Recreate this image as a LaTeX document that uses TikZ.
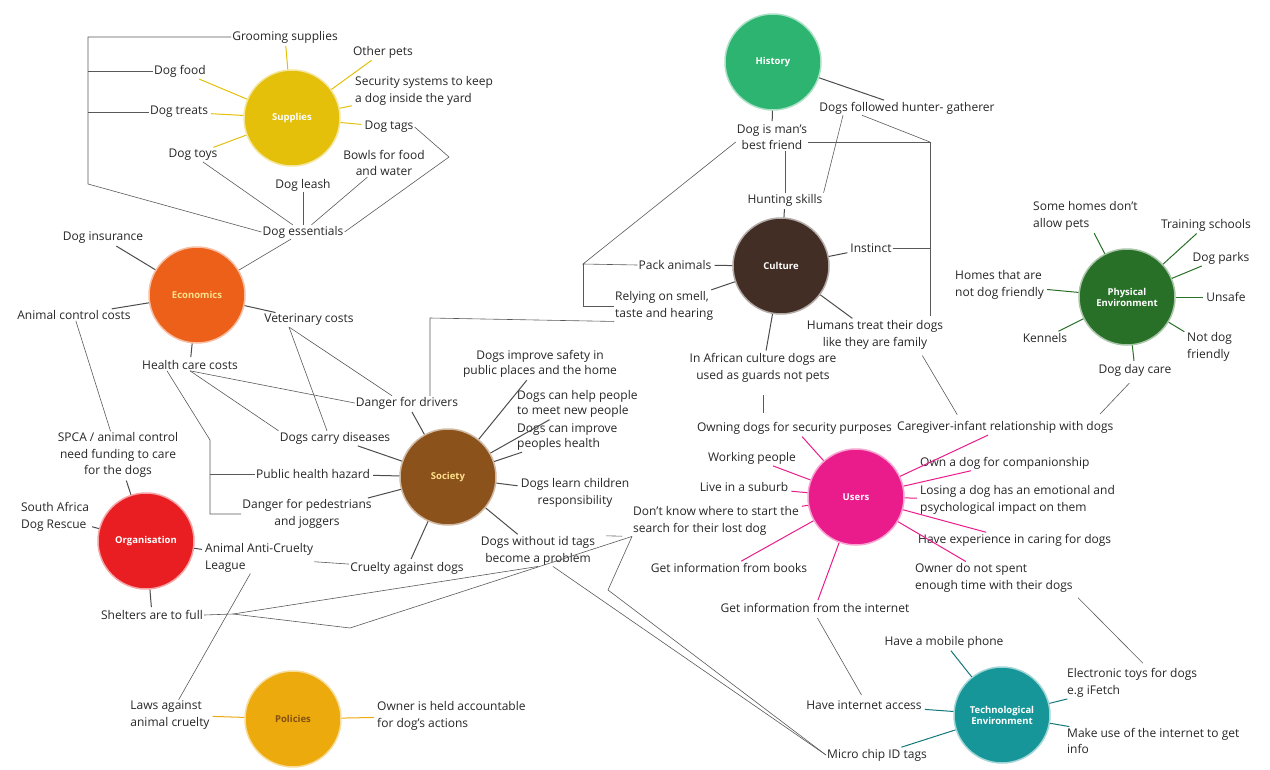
\documentclass[tikz,border=0pt]{standalone}
\usepackage{fontspec}
\setmainfont{Open Sans}
\usepackage{xcolor}
\usepackage{tikz}
\definecolor{cSup}{RGB}{228,192, 10}
\definecolor{cEco}{RGB}{236, 96, 26}
\definecolor{cOrg}{RGB}{232, 30, 34}
\definecolor{cPol}{RGB}{236,170, 12}
\definecolor{cSoc}{RGB}{140, 82, 28}
\definecolor{cHis}{RGB}{ 44,180,112}
\definecolor{cCul}{RGB}{ 66, 46, 36}
\definecolor{cPhy}{RGB}{ 40,112, 40}
\definecolor{cUse}{RGB}{234, 28,140}
\definecolor{cTec}{RGB}{ 22,150,152}
\definecolor{cPale}{RGB}{255,226,140}
\definecolor{cPolText}{RGB}{130, 80, 20}
\tikzstyle{hub}=[circle,inner sep=0pt,minimum size=96pt,line width=1.5pt,align=center,
                 text=white,font=\fontsize{9.5}{11}\selectfont\bfseries]
\tikzstyle{item}=[inner sep=1pt,align=center,text=black!85,font=\fontsize{12}{16.5}\selectfont]
\tikzstyle{tight}=[font=\fontsize{12}{15}\selectfont]
\tikzstyle{link}=[draw=black!65,line width=0.6pt]
\tikzstyle{spoke}=[line width=1pt,shorten >=2pt]

\begin{document}
\begin{tikzpicture}[x=1pt,y=-1pt]
    \useasboundingbox (0,0) rectangle (1270,769);

    % Supplies
    \node[hub,fill=cSup,draw=cSup!40]  (supplies)   at (292,118) {Supplies};
    \node[item]                        (grooming)   at (285,37)  {Grooming supplies};
    \node[item]                        (otherpets)  at (383,52)  {Other pets};
    \node[item]                        (dogfood)    at (180,71)  {Dog food};
    \node[item,align=left,anchor=west] (security)   at (354,91)  {Security systems to keep\\a dog inside the yard};
    \node[item]                        (treats)     at (179,112) {Dog treats};
    \node[item]                        (tags)       at (389,127) {Dog tags};
    \node[item]                        (bowls)      at (384,163) {Bowls for food\\and water};
    \node[item]                        (toys)       at (193,155) {Dog toys};
    \node[item]                        (leash)      at (303,185) {Dog leash};
    \node[item]                        (essentials) at (303,232) {Dog essentials};

    % Economics
    \node[hub,fill=cEco,draw=cEco!40,text=cPale] (economics) at (197,295) {Economics};
    \node[item]                        (insurance)  at (103,238) {Dog insurance};
    \node[item]                        (animalctrl) at (74,315)  {Animal control costs};
    \node[item]                        (vet)        at (309,320) {Veterinary costs};
    \node[item]                        (health)     at (190,365) {Health care costs};

    % Organisation
    \node[hub,fill=cOrg,draw=cOrg!40]  (organisation) at (146,541) {Organisation};
    \node[item]                        (spca)       at (118,455) {SPCA / animal control\\need funding to care\\for the dogs};
    \node[item,align=left]             (sadog)      at (55,517)  {South Africa\\Dog Rescue};
    \node[item,align=left,anchor=west] (anticruelty) at (204,558) {Animal Anti-Cruelty\\League};
    \node[item]                        (shelters)   at (152,615) {Shelters are to full};

    % Policies
    \node[hub,fill=cPol,draw=cPol!40,text=cPolText] (policies) at (293,719) {Policies};
    \node[item,align=left]             (laws)       at (170,715) {Laws against\\animal cruelty};
    \node[item,align=left,anchor=west] (owner)      at (376,716) {Owner is held accountable\\for dog's actions};

    % Society
    \node[hub,fill=cSoc,draw=cSoc!40,text=cPale] (society) at (448,477) {Society};
    \node[item]                        (drivers)    at (407,403) {Danger for drivers};
    \node[item]                        (diseases)   at (335,438) {Dogs carry diseases};
    \node[item]                        (publichealth) at (313,474) {Public health hazard};
    \node[item]                        (pedestrians) at (307,514) {Danger for pedestrians\\and joggers};
    \node[item]                        (cruelty)    at (407,568) {Cruelty against dogs};
    \node[item]                        (idtags)     at (538,551) {Dogs without id tags\\become a problem};
    \node[item]                        (learn)      at (575,493) {Dogs learn children\\responsibility};
    \node[item,tight,align=left,anchor=west] (improvehealth) at (516,437) {Dogs can improve\\peoples health};
    \node[item,tight,align=left,anchor=west] (meetpeople) at (516,404) {Dogs can help people\\to meet new people};
    \node[item,tight]                  (safety)     at (540,364) {Dogs improve safety in\\public places and the home};

    % History
    \node[hub,fill=cHis,draw=cHis!40]  (history)    at (773,62)  {History};
    \node[item]                        (followed)   at (907,108) {Dogs followed hunter- gatherer};
    \node[item]                        (bestfriend) at (772,137) {Dog is man's\\best friend};

    % Culture
    \node[hub,fill=cCul,draw=cCul!40]  (culture)    at (781,266) {Culture};
    \node[item]                        (hunting)    at (785,200) {Hunting skills};
    \node[item]                        (instinct)   at (871,248) {Instinct};
    \node[item]                        (pack)       at (675,265) {Pack animals};
    \node[item,align=left,anchor=west] (relying)    at (614,306) {Relying on smell,\\taste and hearing};
    \node[item]                        (humans)     at (875,335) {Humans treat their dogs\\like they are family};
    \node[item]                        (african)    at (763,368) {In African culture dogs are\\used as guards not pets};

    % Users
    \node[hub,fill=cUse,draw=cUse!40]  (users)      at (856,497) {Users};
    \node[item,anchor=east]            (owning)     at (893,428) {Owning dogs for security purposes};
    \node[item,anchor=west]            (caregiver)  at (896,427) {Caregiver-infant relationship with dogs};
    \node[item]                        (working)    at (752,458) {Working people};
    \node[item]                        (suburb)     at (744,487) {Live in a suburb};
    \node[item,align=left,anchor=west] (dontknow)   at (632,521) {Don't know where to start the\\search for their lost dog};
    \node[item]                        (books)      at (729,568) {Get information from books};
    \node[item]                        (internet)   at (815,608) {Get information from the internet};
    \node[item,anchor=west]            (companionship) at (919,463) {Own a dog for companionship};
    \node[item,align=left,anchor=west] (losing)     at (919,500) {Losing a dog has an emotional and\\psychological impact on them};
    \node[item,anchor=west]            (experience) at (917,540) {Have experience in caring for dogs};
    \node[item,align=left,anchor=west] (notspent)   at (914,578) {Owner do not spent\\enough time with their dogs};

    % Physical environment
    \node[hub,fill=cPhy,draw=cPhy!40]  (physical)   at (1127,297) {Physical\\Environment};
    \node[item,align=left,anchor=west] (somehomes)  at (1032,216) {Some homes don't\\allow pets};
    \node[item]                        (training)   at (1206,225) {Training schools};
    \node[item]                        (parks)      at (1221,258) {Dog parks};
    \node[item,align=left,anchor=west] (homesnot)   at (954,285)  {Homes that are\\not dog friendly};
    \node[item]                        (unsafe)     at (1226,297) {Unsafe};
    \node[item]                        (kennels)    at (1045,338) {Kennels};
    \node[item,align=left,anchor=west] (notdog)     at (1186,347) {Not dog\\friendly};
    \node[item]                        (daycare)    at (1135,370) {Dog day care};

    % Technological environment
    \node[hub,fill=cTec,draw=cTec!40]  (tech)       at (1002,715) {Technological\\Environment};
    \node[item]                        (mobile)     at (944,642)  {Have a mobile phone};
    \node[item,align=left,anchor=west] (electronic) at (1066,683) {Electronic toys for dogs\\e.g iFetch};
    \node[item]                        (access)     at (864,705)  {Have internet access};
    \node[item,align=left,anchor=west] (makeuse)    at (1066,741) {Make use of the internet to get\\info};
    \node[item]                        (microchip)  at (877,755)  {Micro chip ID tags};

    % spokes
    \draw[spoke,draw=cSup]
      (supplies) edge (grooming) edge (otherpets) edge (dogfood) edge (security)
                 edge (treats) edge (tags) edge (toys);
    \draw[spoke,draw=black!70]
      (economics) edge (insurance) edge (animalctrl) edge (vet) edge (health)
      (organisation) edge (spca) edge (sadog) edge (anticruelty) edge (shelters)
      (society) edge (drivers) edge (diseases) edge (publichealth) edge (pedestrians)
                edge (cruelty) edge (idtags) edge (learn) edge (improvehealth)
                edge (meetpeople) edge (safety)
      (history) edge (followed) edge (bestfriend)
      (culture) edge (hunting) edge (instinct) edge (pack) edge (relying)
                edge (humans) edge (african);
    \draw[spoke,draw=cPol]
      (policies) edge (laws) edge (owner);
    \draw[spoke,draw=cUse]
      (users) edge (owning) edge (caregiver) edge (working) edge (suburb)
              edge (dontknow) edge (books) edge (internet) edge (companionship)
              edge (losing) edge (experience) edge (notspent);
    \draw[spoke,draw=cPhy]
      (physical) edge (somehomes) edge (training) edge (parks) edge (homesnot)
                 edge (unsafe) edge (kennels) edge (notdog) edge (daycare);
    \draw[spoke,draw=cTec!80!black]
      (tech) edge (mobile) edge (electronic) edge (access) edge (makeuse) edge (microchip);

    % cross links
    \coordinate (sbot) at (88,184);
    \coordinate (tagbend) at (449,157);
    \draw[link] (grooming.west) -| (sbot) -- (essentials.west);
    \draw[link] (dogfood.west) -- (dogfood.west -| sbot);
    \draw[link] (treats.west) -- (treats.west -| sbot);
    \draw[link] (tags.east) -- (tagbend) -- (essentials.east);
    \draw[link]
      (toys) edge (essentials)
      (leash) edge (essentials)
      (bowls) edge (essentials)
      (essentials) edge (economics)
      (animalctrl) edge (spca);

    \draw[link] ([xshift=-20pt]vet.south) -- ([xshift=-15pt]drivers.north);
    \draw[link] ([xshift=-20pt]vet.south) -- ([xshift=-8pt]diseases.north);
    \draw[link] (health.south) -- (drivers.west);
    \draw[link] (health.south) -- (diseases.north west);

    \coordinate (hbend) at (210,440);
    \draw[link] ([xshift=-23pt]health.south) -- (hbend) |- (pedestrians.west);
    \draw[link] (publichealth.west) -- (publichealth.west -| hbend);

    \coordinate (rcorner) at (430,318);
    \draw[link] (relying.south west) -- (rcorner) -- (rcorner |- drivers.north);

    \draw[link] (anticruelty) -- (cruelty);
    \draw[link] (anticruelty) -- (laws);

    \coordinate (shsplit) at (233,614);
    \coordinate (shdip) at (350,628);
    \draw[link] (shelters.east) -- (shsplit) -- (idtags.south);
    \draw[link] (shsplit) -- (shdip) -- (dontknow.south west);
    \draw[link,shorten <=10pt,shorten >=10pt] (idtags.north east) -- (dontknow.south west);

    \coordinate (mcv) at (608,590);
    \draw[link] (dontknow.south west) -- (mcv) -- (microchip.west);
    \draw[link] ([xshift=15pt]idtags.south) -- (microchip.west);

    \coordinate (hcorner) at (930,142);
    \coordinate (hbottom) at (930,316);
    \draw[link] ([yshift=-5pt]bestfriend.east) -| (hbottom);
    \draw[link] (instinct.east) -- (instinct.east -| hcorner);
    \draw[link] ([xshift=-45pt]followed.south) -- (hcorner);
    \draw[link] ([xshift=-64pt]followed.south) -- (hunting.north east);
    \draw[link] (hunting.north |- bestfriend.south) -- (hunting.north);

    \coordinate (pcorner) at (583,264);
    \draw[link] ([yshift=-5pt]bestfriend.west) -- (pcorner) -- (pack.west);
    \draw[link] (pcorner) |- (relying.west);

    \draw[link,shorten <=12pt,shorten >=8pt] (african.south) -- (african.south |- owning.north);
    \draw[link,shorten <=6pt,shorten >=6pt] ([xshift=-25pt]humans.south east) -- ([xshift=-45pt]caregiver.north);
    \draw[link,shorten <=8pt,shorten >=8pt] (daycare.south) -- ([xshift=-20pt]caregiver.north east);
    \draw[link,shorten <=5pt,shorten >=5pt] (internet.south) -- (access.north);
    \draw[link,shorten <=6pt,shorten >=6pt] (notspent.south east) -- ([xshift=15pt]electronic.north);

\end{tikzpicture}
\end{document}
